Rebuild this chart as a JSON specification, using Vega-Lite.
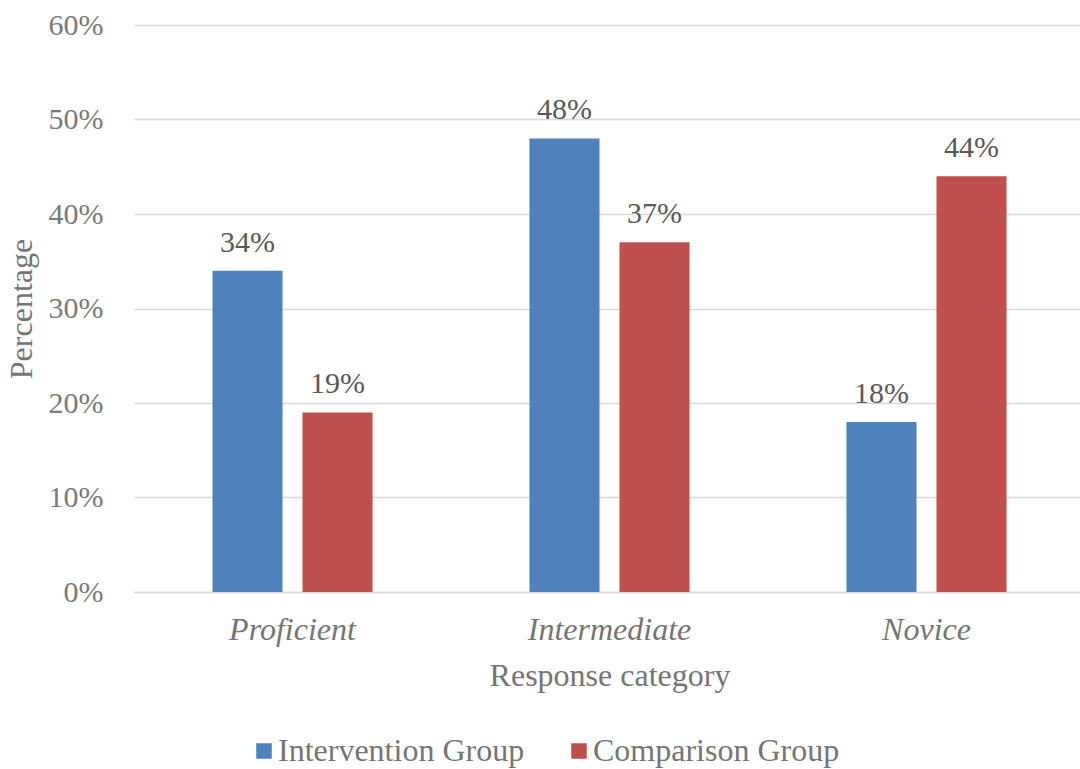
{
  "$schema": "https://vega.github.io/schema/vega-lite/v6.json",
  "width": 951,
  "height": 567,
  "autosize": {"type": "none"},
  "padding": {"left": 134, "top": 25, "right": 0, "bottom": 177},
  "background": "white",
  "config": {
    "view": {"stroke": null},
    "font": "Times New Roman, Liberation Serif, serif"
  },
  "data": {
    "values": [
      {"category": "Proficient", "group": "Intervention Group", "value": 0.34},
      {"category": "Proficient", "group": "Comparison Group", "value": 0.19},
      {"category": "Intermediate", "group": "Intervention Group", "value": 0.48},
      {"category": "Intermediate", "group": "Comparison Group", "value": 0.37},
      {"category": "Novice", "group": "Intervention Group", "value": 0.18},
      {"category": "Novice", "group": "Comparison Group", "value": 0.44}
    ]
  },
  "encoding": {
    "x": {
      "field": "category", "type": "nominal",
      "sort": ["Proficient", "Intermediate", "Novice"],
      "scale": {"paddingInner": 0.495, "paddingOuter": 0.2475},
      "axis": {
        "title": "Response category",
        "titleFont": "Times New Roman, Liberation Serif, serif", "titleFontSize": 32, "titleFontWeight": "normal", "titleColor": "#757575",
        "titlePadding": 15,
        "labelAngle": 0, "labelFont": "Times New Roman, Liberation Serif, serif", "labelFontSize": 32, "labelFontStyle": "italic", "labelColor": "#757575",
        "labelPadding": 22,
        "ticks": false, "domainColor": "#d9d9d9", "domainWidth": 1.5, "grid": false
      }
    },
    "xOffset": {
      "field": "group", "type": "nominal",
      "sort": ["Intervention Group", "Comparison Group"],
      "scale": {"paddingInner": 0.222, "paddingOuter": 0}
    },
    "y": {
      "field": "value", "type": "quantitative",
      "scale": {"domain": [0, 0.6], "nice": false},
      "axis": {
        "title": "Percentage",
        "titleFont": "Times New Roman, Liberation Serif, serif", "titleFontSize": 32, "titleFontWeight": "normal", "titleColor": "#757575",
        "titlePadding": 10,
        "format": ".0%", "values": [0, 0.1, 0.2, 0.3, 0.4, 0.5, 0.6],
        "labelFont": "Times New Roman, Liberation Serif, serif", "labelFontSize": 30, "labelColor": "#7a7a7a", "labelPadding": 31,
        "ticks": false, "domain": false, "gridColor": "#d9d9d9", "gridWidth": 1.5
      }
    }
  },
  "layer": [
    {
      "mark": {"type": "bar"},
      "encoding": {
        "color": {
          "field": "group", "type": "nominal",
          "sort": ["Intervention Group", "Comparison Group"],
          "scale": {"domain": ["Intervention Group", "Comparison Group"], "range": ["#4F81BD", "#C0504D"]},
          "legend": {
            "title": null, "orient": "none", "direction": "horizontal",
            "legendX": 114, "legendY": 710,
            "symbolType": "square", "symbolSize": 240, "symbolStrokeWidth": 0,
            "labelFont": "Times New Roman, Liberation Serif, serif", "labelFontSize": 32, "labelColor": "#757575",
            "labelLimit": 500,
            "labelOffset": -2, "columnPadding": 38
          }
        }
      }
    },
    {
      "mark": {"type": "text", "baseline": "alphabetic", "dy": -19, "fontSize": 30, "font": "Times New Roman, Liberation Serif, serif", "color": "#595959"},
      "encoding": {
        "text": {"field": "value", "type": "quantitative", "format": ".0%"}
      }
    }
  ]
}
